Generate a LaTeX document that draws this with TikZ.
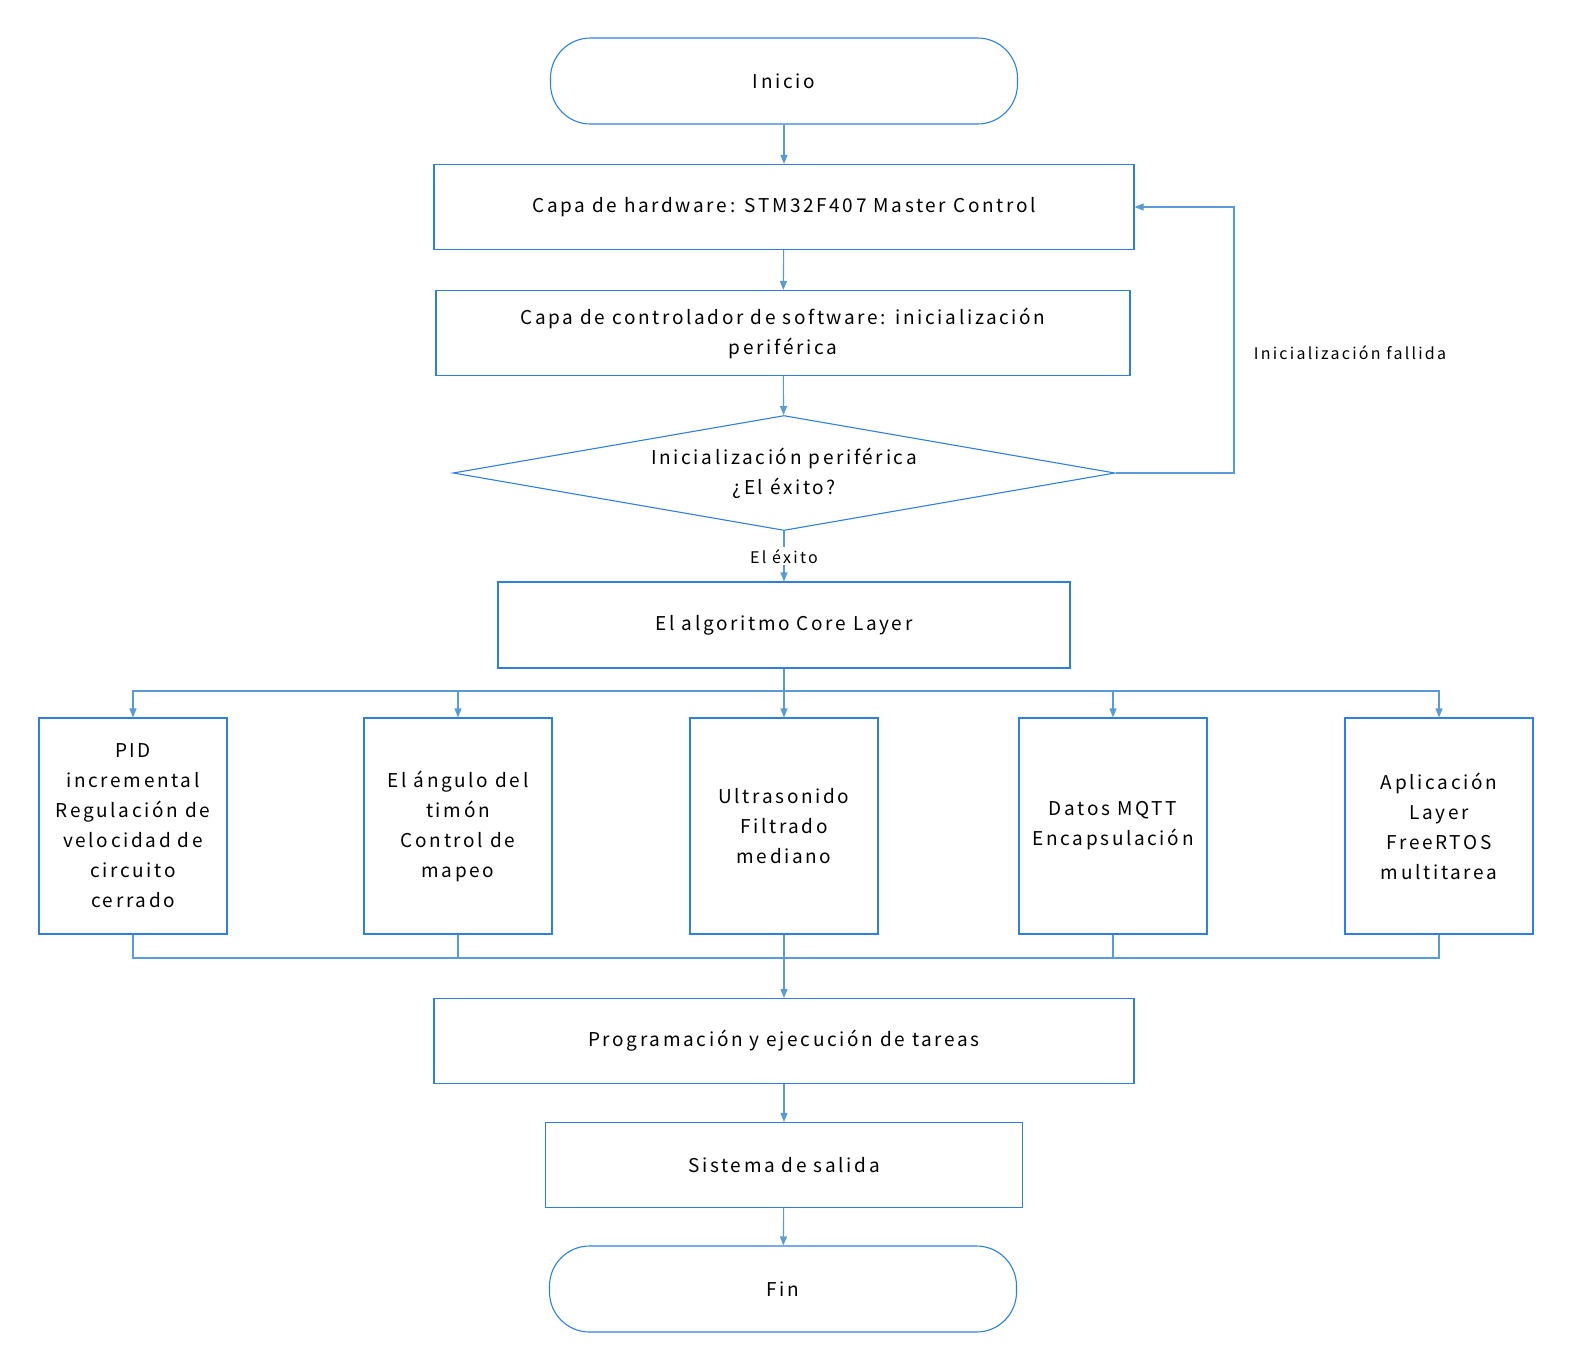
\documentclass[tikz,border=0pt]{standalone}
\usepackage{fontspec}
\setmainfont{Noto Sans CJK SC}[LetterSpace=14]
\usetikzlibrary{shapes.geometric,arrows.meta}
\definecolor{bd}{HTML}{2F7FE0}
\definecolor{ln}{HTML}{5B9BD5}
\begin{document}
\begin{tikzpicture}[x=1pt,y=-1pt,
  every node/.style={font=\fontsize{19}{30}\selectfont,align=center,inner sep=0},
  box/.style={draw=bd,line width=1.1pt,minimum width=#1,anchor=center},
  term/.style={draw=bd,line width=1.1pt,rounded corners=40pt,minimum width=467,minimum height=86},
  ar/.style={draw=ln,line width=1.1pt,-{Triangle[length=9pt,width=7pt]}},
  ln/.style={draw=ln,line width=1.1pt},
  lab/.style={font=\fontsize{16}{20}\selectfont}]
\useasboundingbox (0,0) rectangle (1573,1371);
\node[term] (ini) at (784,81) {Inicio};
\node[box=700,minimum height=85] (hw) at (784,207) {Capa de hardware: STM32F407 Master Control};
\node[box=694,minimum height=85] (sw) at (783,333) {Capa de controlador de software: inicialización\\periférica};
\node[draw=bd,line width=1.1pt,diamond,aspect=5.75,minimum width=662,minimum height=115,inner sep=0] (dia) at (784,473) {Inicialización periférica\\¿El éxito?};
\node[box=572,minimum height=86] (core) at (784,625) {El algoritmo Core Layer};
\foreach \n/\x/\t in {a/133/{PID\\incremental\\Regulación de\\velocidad de\\circuito\\cerrado},
  b/458/{El ángulo del\\timón\\Control de\\mapeo},
  c/784/{Ultrasonido\\Filtrado\\mediano},
  d/1113/{Datos MQTT\\Encapsulación},
  e/1439/{Aplicación\\Layer\\FreeRTOS\\multitarea}}
  \node[box=188,minimum height=216] (\n) at (\x,826) {\t};
\node[box=700,minimum height=85] (pr) at (784,1041) {Programación y ejecución de tareas};
\node[box=477,minimum height=85] (si) at (784,1165) {Sistema de salida};
\node[term] (fin) at (783,1289) {Fin};
\draw[ar] (ini) -- (hw);
\draw[ar] (hw) -- (sw);
\draw[ar] (sw) -- (dia);
\draw[ar] (dia.south) -- node[lab,fill=white,inner sep=2pt]{El éxito} (core);
\coordinate (fb1) at (1234,473);
\coordinate (fb2) at (1234,207);
\draw[ar] (dia.east) -- (fb1) -- (fb2) -- (hw.east);
\node[lab] (fl) at (1350,353) {Inicialización fallida};
\coordinate (br) at (784,691);
\draw[ln] (core.south) -- (br);
\foreach \n in {a,b,c,d,e} \draw[ar] (br) -| (\n.north);
\coordinate (mg) at (784,958);
\foreach \n in {a,b,c,d,e} \draw[ln] (\n.south) |- (mg);
\draw[ar] (mg) -- (pr);
\draw[ar] (pr) -- (si);
\draw[ar] (si) -- (fin);
\end{tikzpicture}
\end{document}
